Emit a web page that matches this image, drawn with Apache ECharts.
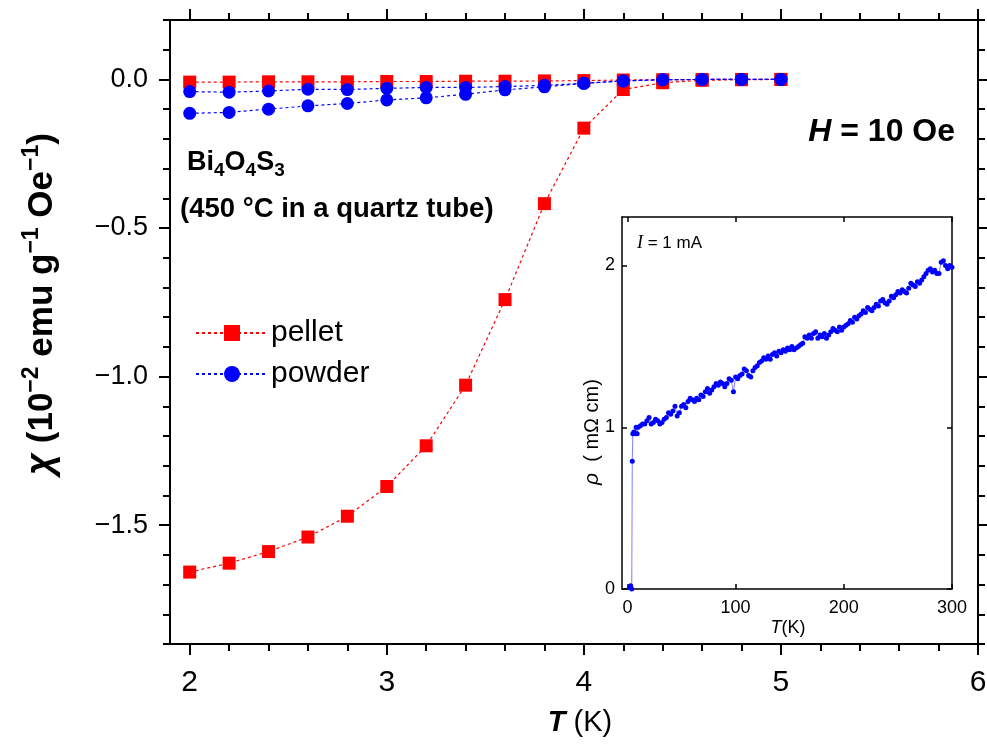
<!DOCTYPE html>
<html><head><meta charset="utf-8">
<script src="https://cdn.jsdelivr.net/npm/echarts@6/dist/echarts.min.js"></script>
<style>html,body{margin:0;padding:0;background:#fff}#c{width:987px;height:749px}</style>
</head><body><div id="c"></div>
<script>
// ---- data ----
const temps = [2.0,2.2,2.4,2.6,2.8,3.0,3.2,3.4,3.6,3.8,4.0,4.2,4.4,4.6,4.8,5.0];
const pelletZFC = [-1.658,-1.628,-1.589,-1.540,-1.470,-1.370,-1.233,-1.029,-0.741,-0.418,-0.164,-0.034,-0.011,-0.003,-0.001,0.000];
const pelletFC  = [-0.009,-0.009,-0.008,-0.008,-0.008,-0.007,-0.007,-0.006,-0.006,-0.005,-0.004,-0.002,-0.001,0.000,0.000,0.000];
const powderFC  = [-0.041,-0.043,-0.039,-0.033,-0.034,-0.030,-0.027,-0.027,-0.024,-0.020,-0.013,-0.005,-0.001,0.000,0.000,0.000];
const powderZFC = [-0.114,-0.111,-0.100,-0.089,-0.081,-0.069,-0.062,-0.050,-0.035,-0.025,-0.013,-0.005,-0.001,0.000,0.000,0.000];

const rhoT = [2,3,4,4.5,5,6,7,8,9,10,12,14,16,18,20,22,24,26,28,30,32,34,36,38,40,42,44,46,48,50,52,54,56,58,60,62,64,66,68,70,72,74,76,78,80,82,84,86,88,90,92,94,96,98,100,102,104,106,108,110,112,114,116,118,120,122,124,126,128,130,132,134,136,138,140,142,144,146,148,150,152,154,156,158,160,162,164,166,168,170,172,174,176,178,180,182,184,186,188,190,192,194,196,198,200,202,204,206,208,210,212,214,216,218,220,222,224,226,228,230,232,234,236,238,240,242,244,246,248,250,252,254,256,258,260,262,264,266,268,270,272,274,276,278,280,282,284,286,288,290,292,294,296,298,300];
const rhoV = [0.01,0.02,0.00,0.79,0.96,0.97,0.96,1.00,0.96,1.00,1.01,1.02,1.02,1.04,1.06,1.02,1.03,1.05,1.04,1.02,1.03,1.05,1.06,1.09,1.08,1.10,1.13,1.07,1.09,1.13,1.14,1.12,1.16,1.18,1.17,1.16,1.18,1.17,1.20,1.19,1.22,1.24,1.21,1.23,1.25,1.27,1.26,1.28,1.27,1.25,1.27,1.30,1.29,1.22,1.31,1.30,1.32,1.33,1.36,1.35,1.32,1.31,1.35,1.37,1.38,1.40,1.41,1.43,1.42,1.44,1.42,1.45,1.46,1.44,1.47,1.46,1.48,1.47,1.49,1.48,1.50,1.48,1.49,1.50,1.51,1.52,1.56,1.55,1.57,1.55,1.58,1.59,1.55,1.57,1.56,1.58,1.55,1.57,1.59,1.61,1.60,1.59,1.62,1.60,1.62,1.63,1.64,1.66,1.65,1.68,1.67,1.69,1.70,1.72,1.71,1.74,1.73,1.72,1.74,1.76,1.75,1.78,1.79,1.77,1.76,1.78,1.81,1.80,1.82,1.84,1.83,1.85,1.84,1.83,1.86,1.89,1.88,1.87,1.90,1.89,1.91,1.93,1.95,1.97,1.98,1.96,1.97,1.95,1.95,2.02,2.03,2.00,1.98,2.00,1.99];

const mainXLabels = [2,3,4,5,6];
const mainYLabels = [-1.5,-1.0,-0.5,0.0];
const insetXLabels = [0,100,200,300];
const insetYLabels = [0,1,2];

// ---- helpers ----
const SANS = '"Liberation Sans", Arial, sans-serif';
const NARROW = '"Liberation Sans Narrow", "Liberation Sans", Arial, sans-serif';
const zip = (xs, ys) => xs.map((x, i) => [x, ys[i]]);
const xMinor = []; for (let k = 20; k <= 60; k += 2) xMinor.push(k / 10);
const yMinor = []; for (let k = -19; k <= 2; k++) yMinor.push(k / 10);
const yMajor = [-1.5,-1.0,-0.5,0.0];

function axis(o) {
  return Object.assign({
    type: 'value', splitLine: {show: false},
    axisLine: {show: true, onZero: false, lineStyle: {color: '#000', width: 2}},
    axisTick: {show: true, inside: false, length: 7, lineStyle: {color: '#000', width: 2}},
    axisLabel: {show: false}
  }, o);
}
function mx(pos, ticks, len, labels) {
  return axis({gridIndex: 0, position: pos, min: 1.9, max: 6,
    axisTick: {show: true, length: len, customValues: ticks, lineStyle: {color: '#000', width: 2}},
    axisLabel: labels ? {show: true, customValues: labels, margin: 24, fontSize: 30, color: '#000', fontFamily: NARROW} : {show: false}});
}
function my(pos, ticks, len, labels) {
  return axis({gridIndex: 0, position: pos, min: -1.9, max: 0.2,
    axisTick: {show: true, length: len, customValues: ticks, lineStyle: {color: '#000', width: 2}},
    axisLabel: labels ? {show: true, customValues: labels, margin: 22, fontSize: 27, color: '#000', fontFamily: SANS,
      formatter: v => (Math.abs(v) < 1e-9 ? '0.0' : '\u2212' + Math.abs(v).toFixed(1))} : {show: false}});
}
function ix(pos, labels) {
  return axis({gridIndex: 1, position: pos, min: -5, max: 300,
    axisLine: {show: true, onZero: false, lineStyle: {color: '#000', width: 1.5}},
    axisTick: {show: true, inside: true, length: 5, customValues: insetXLabels, lineStyle: {color: '#000', width: 1.5}},
    axisLabel: labels ? {show: true, customValues: insetXLabels, margin: 10, fontSize: 18, color: '#000', fontFamily: NARROW} : {show: false}});
}
function iy(pos, labels) {
  return axis({gridIndex: 1, position: pos, min: 0, max: 2.3,
    axisLine: {show: true, onZero: false, lineStyle: {color: '#000', width: 1.5}},
    axisTick: {show: true, inside: true, length: 5, customValues: insetYLabels, lineStyle: {color: '#000', width: 1.5}},
    axisLabel: labels ? {show: true, customValues: insetYLabels, margin: 7, fontSize: 18, color: '#000', fontFamily: NARROW} : {show: false}});
}

function mainSeries(name, ys, color, symbol) {
  return {
    type: 'line', name: name, xAxisIndex: 0, yAxisIndex: 0,
    data: zip(temps, ys), symbol: symbol, symbolSize: 13, showAllSymbol: true,
    itemStyle: {color: color}, lineStyle: {color: color, width: 1.2, type: [3, 3]},
    emphasis: {disabled: true}, silent: true, animation: false
  };
}

const chart = echarts.init(document.getElementById('c'), null, {renderer: 'canvas'});
chart.setOption({
  backgroundColor: '#fff',
  animation: false,
  textStyle: {fontFamily: SANS},
  grid: [
    {left: 170, right: 9, top: 20, bottom: 105, containLabel: false, outerBoundsMode: 'none'},
    {left: 622, right: 35, top: 217, bottom: 160, containLabel: false, outerBoundsMode: 'none', show: true, backgroundColor: '#fff', borderWidth: 0}
  ],
  xAxis: [
    mx('bottom', mainXLabels, 11, mainXLabels),
    mx('bottom', xMinor, 7, null),
    mx('top', mainXLabels, 11, null),
    mx('top', xMinor, 7, null),
    ix('bottom', true),
    ix('top', false)
  ],
  yAxis: [
    my('left', yMajor, 11, mainYLabels),
    my('left', yMinor, 7, null),
    my('right', yMajor, 11, null),
    my('right', yMinor, 7, null),
    iy('left', true),
    iy('right', false)
  ],
  legend: {
    data: ['pellet', 'powder'], orient: 'vertical', left: 195, top: 318, padding: 0,
    itemWidth: 72, itemHeight: 20, itemGap: 11, selectedMode: false,
    textStyle: {fontSize: 30, color: '#000', fontFamily: SANS, padding: [0, 0, 0, -2]}
  },
  series: [
    mainSeries('pellet', pelletZFC, '#ff0000', 'rect'),
    mainSeries('pellet', pelletFC, '#ff0000', 'rect'),
    mainSeries('powder', powderFC, '#0000ff', 'circle'),
    mainSeries('powder', powderZFC, '#0000ff', 'circle'),
    {
      type: 'line', name: 'rho', xAxisIndex: 4, yAxisIndex: 4, data: zip(rhoT, rhoV),
      symbol: 'circle', symbolSize: 5, showAllSymbol: true,
      itemStyle: {color: '#0000ff'}, lineStyle: {color: '#4a4aff', width: 1, opacity: 0.7},
      emphasis: {disabled: true}, silent: true, animation: false, z: 5
    }
  ],
  graphic: [
    {type: 'text', x: 42, y: 304, rotation: Math.PI / 2, z: 100, style: {
      text: '{c|\u03c7}{b| (10}{s|\u22122}{b| emu g}{s|\u22121}{b| Oe}{s|\u22121}{b|)}',
      align: 'center', verticalAlign: 'middle', fill: '#000',
      rich: {
        c: {fontSize: 38, fontWeight: 'bold', fontStyle: 'italic', fontFamily: SANS, fill: '#000', lineHeight: 44},
        b: {fontSize: 35, fontWeight: 'bold', fontFamily: SANS, fill: '#000', lineHeight: 44},
        s: {fontSize: 23, fontWeight: 'bold', fontFamily: SANS, fill: '#000', lineHeight: 24, verticalAlign: 'top'}
      }}},
    {type: 'text', x: 580, y: 723, z: 100, style: {
      text: '{i|T}{n| (K)}', align: 'center', verticalAlign: 'middle', fill: '#000',
      rich: {
        i: {fontSize: 29, fontStyle: 'italic', fontWeight: 'bold', fontFamily: SANS, fill: '#000'},
        n: {fontSize: 29, fontFamily: NARROW, fill: '#000'}
      }}},
    {type: 'text', x: 955, y: 132, z: 100, style: {
      text: '{i|H}{b| = 10 Oe}', align: 'right', verticalAlign: 'middle', fill: '#000',
      rich: {
        i: {fontSize: 32, fontStyle: 'italic', fontWeight: 'bold', fontFamily: SANS, fill: '#000'},
        b: {fontSize: 32, fontWeight: 'bold', fontFamily: SANS, fill: '#000'}
      }}},
    {type: 'text', x: 187, y: 163, z: 100, style: {
      text: '{b|Bi}{u|4}{b|O}{u|4}{b|S}{u|3}', align: 'left', verticalAlign: 'middle', fill: '#000',
      rich: {
        b: {fontSize: 27, fontWeight: 'bold', fontFamily: SANS, fill: '#000', lineHeight: 34},
        u: {fontSize: 19, fontWeight: 'bold', fontFamily: SANS, fill: '#000', lineHeight: 20, verticalAlign: 'bottom'}
      }}},
    {type: 'text', x: 180, y: 209, z: 100, style: {
      text: '(450 \u00b0C in a quartz tube)', align: 'left', verticalAlign: 'middle', fill: '#000',
      fontSize: 27.5, fontWeight: 'bold', fontFamily: SANS}},
    {type: 'text', x: 788, y: 628, z: 100, style: {
      text: '{i|T}{n|(K)}', align: 'center', verticalAlign: 'middle', fill: '#000',
      rich: {
        i: {fontSize: 18, fontStyle: 'italic', fontFamily: SANS, fill: '#000'},
        n: {fontSize: 18, fontFamily: NARROW, fill: '#000'}
      }}},
    {type: 'text', x: 592, y: 432, rotation: Math.PI / 2, z: 100, style: {
      text: '{i|\u03c1}{n|  ( m\u03a9 cm)}', align: 'center', verticalAlign: 'middle', fill: '#000',
      rich: {
        i: {fontSize: 21, fontStyle: 'italic', fontFamily: SANS, fill: '#000'},
        n: {fontSize: 20, fontFamily: NARROW, fill: '#000'}
      }}},
    {type: 'text', x: 637, y: 243, z: 100, style: {
      text: '{i|I}{n| = 1 mA}', align: 'left', verticalAlign: 'middle', fill: '#000',
      rich: {
        i: {fontSize: 18, fontStyle: 'italic', fontFamily: 'serif', fill: '#000'},
        n: {fontSize: 17, fontFamily: SANS, fill: '#000'}
      }}}
  ]
});
</script>
</body></html>
